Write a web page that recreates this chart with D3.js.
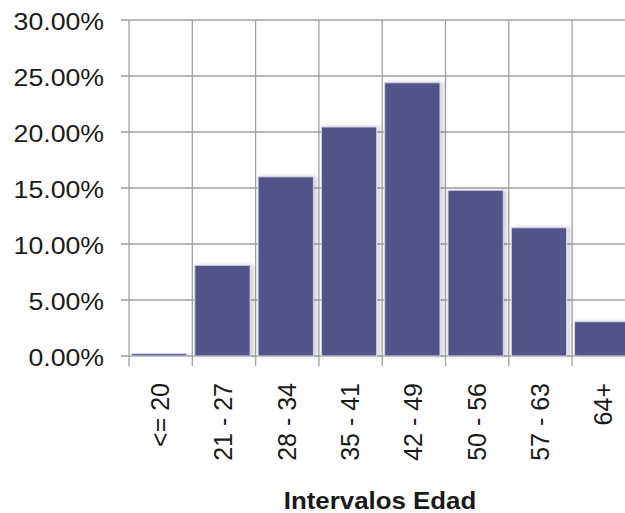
<!DOCTYPE html>
<html><head><meta charset="utf-8">
<script src="https://cdn.jsdelivr.net/npm/d3@7"></script>
<style>body{margin:0;background:#fff}svg{display:block}</style>
</head><body>
<svg id="c" width="625" height="513"></svg>
<script>
const categories = ["<= 20","21 - 27","28 - 34","35 - 41","42 - 49","50 - 56","57 - 63","64+"];
const values = [0.002, 0.081, 0.160, 0.2045, 0.244, 0.148, 0.1145, 0.0306];
const yTicks = [0, 0.05, 0.10, 0.15, 0.20, 0.25, 0.30];
const xTitle = "Intervalos Edad";

(function(){
const svg = d3.select("#c");
const pLeft = 129, pTop = 20, pBottom = 356;
const bandW = 63.3;
const font = "Liberation Sans, Arial, sans-serif";
const x = d3.scaleBand().domain(categories).range([pLeft, pLeft + bandW*categories.length]).padding(0);
const y = d3.scaleLinear().domain([0, 0.30]).range([pBottom, pTop]);

const defs = svg.append("defs");
const f = defs.append("filter").attr("id","sh").attr("x","-20%").attr("y","-20%").attr("width","150%").attr("height","140%");
f.append("feGaussianBlur").attr("in","SourceAlpha").attr("stdDeviation",2).attr("result","b");
f.append("feOffset").attr("in","b").attr("dx",3).attr("dy",0).attr("result","o");
f.append("feComponentTransfer").attr("in","o").attr("result","o2").append("feFuncA").attr("type","linear").attr("slope",0.18);
const m = f.append("feMerge"); m.append("feMergeNode").attr("in","o2"); m.append("feMergeNode").attr("in","SourceGraphic");

const pRight = x.range()[1];
svg.append("g").selectAll("line").data(yTicks).join("line")
  .attr("x1", pLeft - 8).attr("x2", pRight)
  .attr("y1", d => y(d)).attr("y2", d => y(d))
  .attr("stroke", "#a0a0a0").attr("stroke-width", 1.3);
const bounds = categories.map(c => x(c));
svg.append("g").selectAll("line").data(bounds).join("line")
  .attr("x1", d => d).attr("x2", d => d)
  .attr("y1", pTop).attr("y2", pBottom + 10)
  .attr("stroke", "#a0a0a0").attr("stroke-width", 1.3);

svg.append("g").selectAll("rect").data(values).join("rect")
  .attr("x", (d,i) => x(categories[i]) + 2.5)
  .attr("width", x.bandwidth() - 8)
  .attr("y", d => y(d))
  .attr("height", d => pBottom - y(d))
  .attr("fill", "#52538a")
  .attr("stroke", "#d4d4e8").attr("stroke-width", 1)
  .attr("filter", "url(#sh)");

svg.append("g").selectAll("text").data(yTicks).join("text")
  .attr("transform", d => `translate(104,${y(d) + 10}) scale(1.08,1)`)
  .attr("text-anchor", "end")
  .attr("font-family", font)
  .attr("font-size", 24.7).attr("fill", "#1a1a1a")
  .text(d3.format(".2%"));

svg.append("g").selectAll("text").data(categories).join("text")
  .attr("transform", d => `translate(${x(d) + x.bandwidth()/2 + 8.5},383) rotate(-90)`)
  .attr("text-anchor", "end")
  .attr("font-family", font)
  .attr("font-size", 25).attr("fill", "#1a1a1a")
  .text(d => d);

svg.append("text")
  .attr("transform", "translate(380,508.5) scale(1.1,1)")
  .attr("text-anchor", "middle")
  .attr("font-family", font)
  .attr("font-weight", "bold")
  .attr("font-size", 23.5).attr("fill", "#1a1a1a")
  .text(xTitle);
})();
</script>
</body></html>
